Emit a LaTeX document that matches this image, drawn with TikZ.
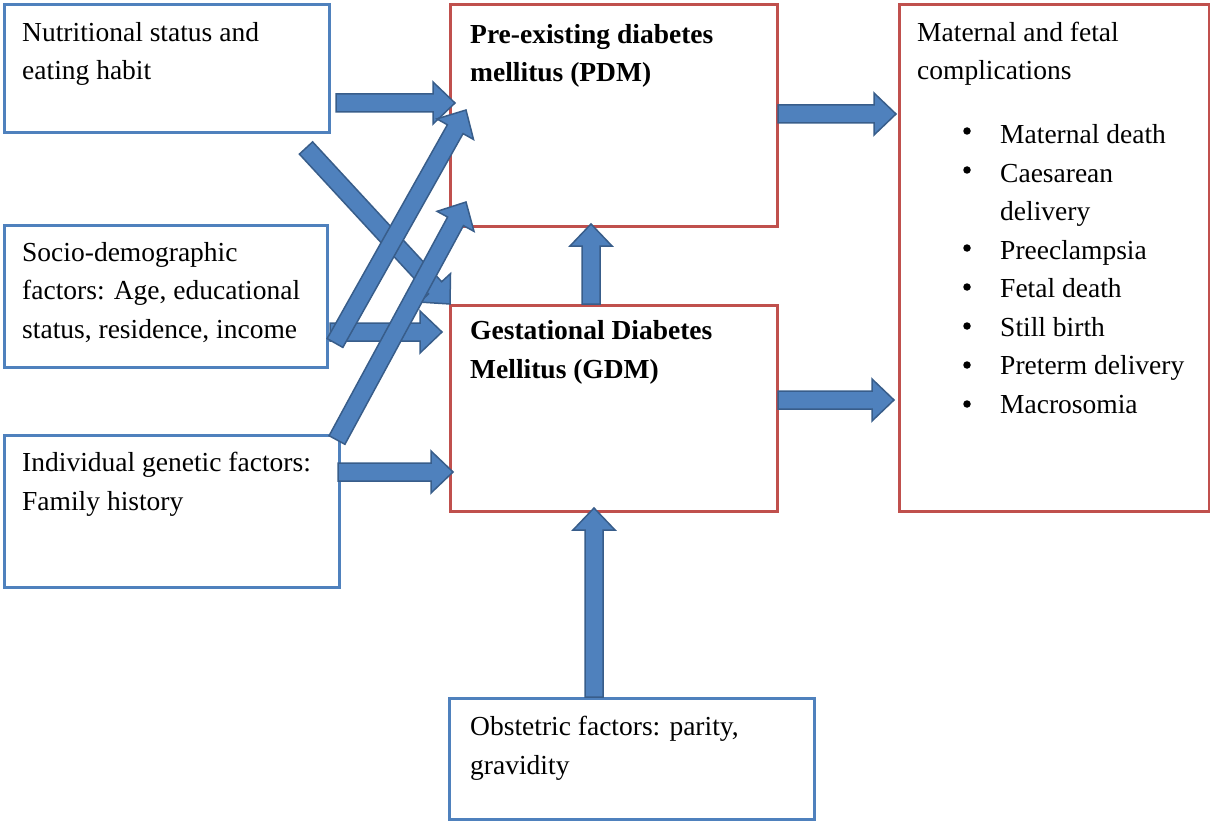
\documentclass[tikz,border=0pt]{standalone}
\usepackage{fontspec}
\setmainfont{Liberation Serif}
\usetikzlibrary{calc}
\definecolor{boxblue}{HTML}{4F81BD}
\definecolor{boxred}{HTML}{C0504D}
\definecolor{arrfill}{HTML}{4F81BD}
\definecolor{arrline}{HTML}{385D8A}
\newcommand\blockarrow[2]{%
  \coordinate (hb) at ($(#2)!22pt!(#1)$);
  \draw[blockarr] ($(#1)!9pt!90:(#2)$) -- ($(hb)!9pt!90:(#2)$) -- ($(hb)!21pt!90:(#2)$)
    -- (#2) -- ($(hb)!21pt!-90:(#2)$) -- ($(hb)!9pt!-90:(#2)$) -- ($(#1)!9pt!-90:(#2)$) -- cycle;}
\begin{document}
\begin{tikzpicture}[x=1pt,y=-1pt,
  bluebox/.style={draw=boxblue,line width=3pt,rectangle,anchor=north west,inner sep=0pt},
  redbox/.style={draw=boxred,line width=3pt,rectangle,anchor=north west,inner sep=0pt},
  txt/.style={anchor=base west,inner sep=0pt,align=left,font=\fontsize{27.5}{38.5}\selectfont},
  bul/.style={circle,fill=black,inner sep=0pt,minimum size=7.5pt},
  blockarr/.style={fill=arrfill,draw=arrline,line width=1.5pt,line join=miter}]
\useasboundingbox (0,0) rectangle (1210,821);
% boxes
\node[bluebox,minimum width=325pt,minimum height=128pt] (nut) at (3,3) {};
\node[bluebox,minimum width=323pt,minimum height=142pt] (soc) at (3,224) {};
\node[bluebox,minimum width=335pt,minimum height=152pt] (ind) at (3,434) {};
\node[bluebox,minimum width=365pt,minimum height=121pt] (obs) at (448,697) {};
\node[redbox,minimum width=327pt,minimum height=222pt] (pdm) at (449,3) {};
\node[redbox,minimum width=327pt,minimum height=206pt] (gdm) at (449,304) {};
\node[redbox,minimum width=310pt,minimum height=507pt] (mat) at (898,3) {};
% texts (anchor = baseline of the last line)
\node[txt] (nut-t) at (22,80) {Nutritional status and\\eating habit};
\node[txt] (soc-t) at (22,338) {Socio-demographic\\factors: Age, educational\\status, residence, income};
\node[txt] (ind-t) at (22,510) {Individual genetic factors:\\Family history};
\node[txt] (obs-t) at (470,774) {Obstetric factors: parity,\\gravidity};
\node[txt,font=\fontsize{27.5}{38.5}\selectfont\bfseries] (pdm-t) at (470,82) {Pre-existing diabetes\\mellitus (PDM)};
\node[txt,font=\fontsize{27.5}{38.5}\selectfont\bfseries] (gdm-t) at (470,378) {Gestational Diabetes\\Mellitus (GDM)};
\node[txt] (mat-t) at (917,80) {Maternal and fetal\\complications};
\node[bul] (b1) at (967,131) {};
\node[bul] (b2) at (967,170) {};
\node[bul] (b3) at (967,248) {};
\node[bul] (b4) at (967,287) {};
\node[bul] (b5) at (967,326) {};
\node[bul] (b6) at (967,365) {};
\node[bul] (b7) at (967,404) {};
\node[txt] (list) at (1000,413) {Maternal death\\Caesarean\\delivery\\Preeclampsia\\Fetal death\\Still birth\\Preterm delivery\\Macrosomia};
% arrow end points
\coordinate (a1s) at (336,103); \coordinate (a1e) at (455,103);
\coordinate (a2s) at (306,148); \coordinate (a2e) at (450,304);
\coordinate (a3s) at (335,343); \coordinate (a3e) at (466,110);
\coordinate (a4s) at (330,332); \coordinate (a4e) at (442,332);
\coordinate (a5s) at (337,440); \coordinate (a5e) at (466,202);
\coordinate (a6s) at (338,472); \coordinate (a6e) at (453,472);
\coordinate (a7s) at (591,304); \coordinate (a7e) at (591,224);
\coordinate (a8s) at (594,697); \coordinate (a8e) at (594,508);
\coordinate (a9s) at (778,114); \coordinate (a9e) at (896,114);
\coordinate (a10s) at (778,400); \coordinate (a10e) at (894,400);
\blockarrow{a1s}{a1e}
\blockarrow{a4s}{a4e}
\blockarrow{a6s}{a6e}
\blockarrow{a2s}{a2e}
\blockarrow{a3s}{a3e}
\blockarrow{a5s}{a5e}
\blockarrow{a7s}{a7e}
\blockarrow{a8s}{a8e}
\blockarrow{a9s}{a9e}
\blockarrow{a10s}{a10e}
\end{tikzpicture}
\end{document}
